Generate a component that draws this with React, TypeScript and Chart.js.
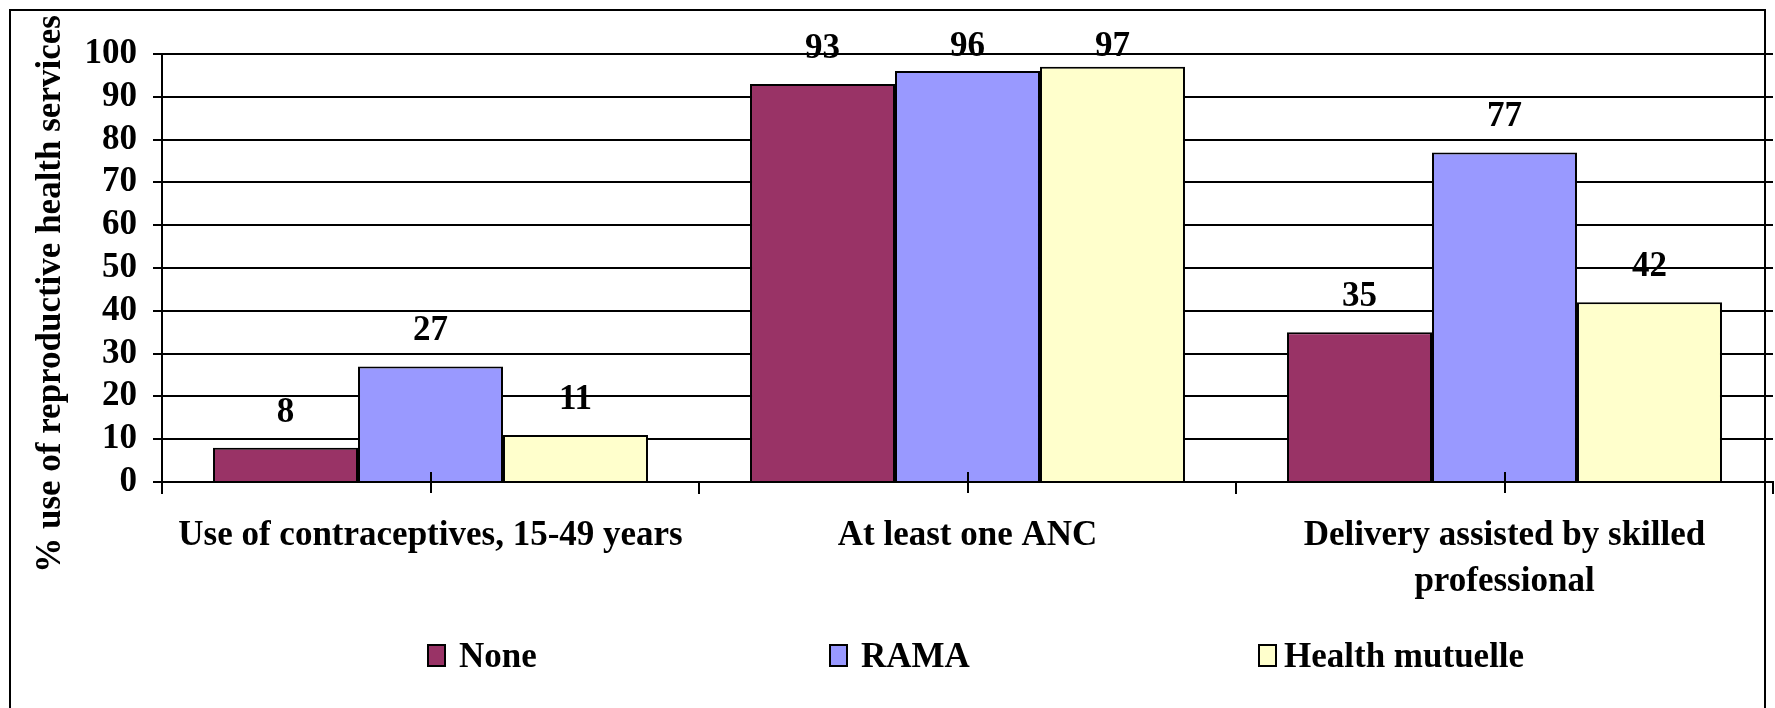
import React, { useEffect, useRef } from "react";
import { Chart, registerables } from "chart.js";

Chart.register(...registerables);

const categories: string[][] = [
  ["Use of contraceptives, 15-49 years"],
  ["At least one ANC"],
  ["Delivery assisted by skilled", "professional"],
];
const seriesNames = ["None", "RAMA", "Health mutuelle"];
const noneValues = [8, 93, 35];
const ramaValues = [27, 96, 77];
const mutuelleValues = [11, 97, 42];
const seriesColors = ["#993366", "#9999FF", "#FFFFCC"];
const yMin = 0;
const yMax = 100;
const yStep = 10;
const yTitle = "% use of reproductive health services";

const FONT = "'Liberation Serif', 'Times New Roman', serif";
const FONT_SIZE = 35;

export default function App() {
  const canvasRef = useRef<HTMLCanvasElement | null>(null);

  useEffect(() => {
    const canvas = canvasRef.current;
    if (!canvas) return;

    const framePlugin = {
      id: "frame",
      beforeDraw(chart: any) {
        const ctx = chart.ctx;
        ctx.save();
        ctx.fillStyle = "#ffffff";
        ctx.fillRect(0, 0, chart.width, chart.height);
        ctx.strokeStyle = "#000000";
        ctx.lineWidth = 2;
        ctx.strokeRect(10, 10, chart.width - 20, chart.height + 20);
        ctx.restore();
      },
    };

    const overlayPlugin = {
      id: "overlay",
      afterDatasetsDraw(chart: any) {
        const ctx = chart.ctx;
        const area = chart.chartArea;
        const xScale = chart.scales.x;
        const n = categories.length;
        ctx.save();
        // x-axis tick marks: boundaries (outside) and centers (cross)
        ctx.strokeStyle = "#000000";
        ctx.lineWidth = 2;
        ctx.beginPath();
        for (let i = 0; i <= n; i++) {
          const px = Math.round(xScale.getPixelForValue(i - 0.5));
          ctx.moveTo(px, area.bottom);
          ctx.lineTo(px, area.bottom + 12);
        }
        for (let i = 0; i < n; i++) {
          const px = Math.round(xScale.getPixelForValue(i));
          ctx.moveTo(px, area.bottom - 10);
          ctx.lineTo(px, area.bottom + 11);
        }
        ctx.stroke();

        // data labels
        ctx.fillStyle = "#000000";
        ctx.font = `bold ${FONT_SIZE}px ${FONT}`;
        ctx.textAlign = "center";
        ctx.textBaseline = "alphabetic";
        chart.data.datasets.forEach((ds: any, di: number) => {
          const meta = chart.getDatasetMeta(di);
          meta.data.forEach((el: any, i: number) => {
            const y = Math.max(el.y - 26, area.top + 2);
            ctx.fillText(String(ds.data[i]), el.x, y);
          });
        });
        ctx.restore();
      },
      afterDraw(chart: any) {
        const ctx = chart.ctx;
        ctx.save();
        // y-axis title
        ctx.fillStyle = "#000000";
        ctx.font = `bold ${FONT_SIZE}px ${FONT}`;
        ctx.translate(60, 294);
        ctx.rotate(-Math.PI / 2);
        ctx.textAlign = "center";
        ctx.textBaseline = "alphabetic";
        ctx.fillText(yTitle, 0, 0);
        ctx.restore();

        // legend
        const boxX = [428, 830, 1259];
        const textX = [459, 861, 1284];
        ctx.save();
        ctx.font = `bold ${FONT_SIZE}px ${FONT}`;
        ctx.textAlign = "left";
        ctx.textBaseline = "alphabetic";
        seriesNames.forEach((name, i) => {
          const x = boxX[i];
          ctx.fillStyle = seriesColors[i];
          ctx.fillRect(x, 645, 17, 21);
          ctx.strokeStyle = "#000000";
          ctx.lineWidth = 2;
          ctx.strokeRect(x, 645, 17, 21);
          ctx.fillStyle = "#000000";
          ctx.fillText(name, textX[i], 667);
        });
        ctx.restore();
      },
    };

    const valuesList = [noneValues, ramaValues, mutuelleValues];
    const chart = new Chart(canvas, {
      type: "bar",
      data: {
        labels: categories,
        datasets: seriesNames.map((name, i) => ({
          label: name,
          data: valuesList[i],
          backgroundColor: seriesColors[i],
          borderColor: "#000000",
          borderWidth: 2,
          borderSkipped: "bottom" as const,
          categoryPercentage: 0.81,
          barPercentage: 1.0,
        })),
      },
      options: {
        responsive: false,
        animation: false,
        devicePixelRatio: 1,
        layout: { padding: { top: 54, right: 2, left: 0, bottom: 0 } },
        plugins: {
          legend: { display: false },
          title: { display: false },
          tooltip: { enabled: false },
        },
        scales: {
          x: {
            type: "category",
            grid: { display: false, drawTicks: false },
            border: { display: true, color: "#000000", width: 2 },
            ticks: {
              color: "#000000",
              font: { family: FONT, size: FONT_SIZE, weight: "bold", lineHeight: 46 / 35 },
              padding: 31,
              maxRotation: 0,
              minRotation: 0,
              autoSkip: false,
            },
            afterFit(scale: any) {
              scale.height = 226;
            },
          },
          y: {
            min: yMin,
            max: yMax,
            grid: {
              color: "#000000",
              lineWidth: 2,
              drawTicks: true,
              tickLength: 9,
            },
            border: { display: true, color: "#000000", width: 2 },
            ticks: {
              stepSize: yStep,
              autoSkip: false,
              color: "#000000",
              font: { family: FONT, size: FONT_SIZE, weight: "bold", lineHeight: 1 },
              padding: 16,
            },
            afterFit(scale: any) {
              scale.width = 162;
            },
          },
        },
      },
      plugins: [framePlugin, overlayPlugin],
    } as any);

    return () => {
      chart.destroy();
    };
  }, []);

  return (
    <div style={{ position: "absolute", left: 0, top: 0, width: 1775, height: 708, background: "#fff" }}>
      <canvas ref={canvasRef} width={1775} height={708} style={{ display: "block" }} />
    </div>
  );
}
